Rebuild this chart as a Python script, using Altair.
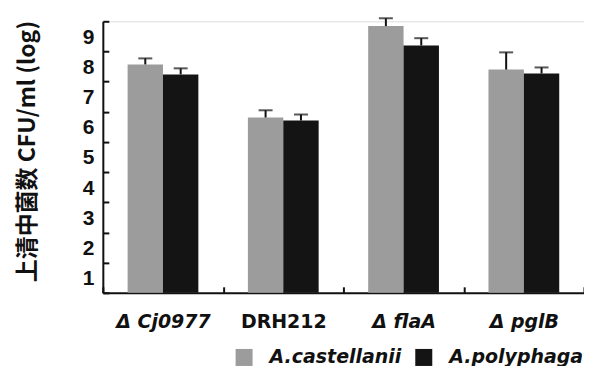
import altair as alt
import pandas as pd

strains = ["Δ Cj0977", "DRH212", "Δ flaA", "Δ pglB"]
hosts = ["A.castellanii", "A.polyphaga"]
castellanii = [7.57, 5.81, 8.84, 7.40]
castellanii_err = [0.20, 0.24, 0.26, 0.57]
polyphaga = [7.24, 5.71, 8.20, 7.27]
polyphaga_err = [0.20, 0.20, 0.24, 0.20]
y_ticks = [0, 1, 2, 3, 4, 5, 6, 7, 8, 9]

rows = []
for i, s in enumerate(strains):
    rows.append({"strain": s, "host": hosts[0], "value": castellanii[i],
                 "top": castellanii[i] + castellanii_err[i]})
    rows.append({"strain": s, "host": hosts[1], "value": polyphaga[i],
                 "top": polyphaga[i] + polyphaga_err[i]})
df = pd.DataFrame(rows)

FONT = "DejaVu Sans"

x = alt.X("strain:N", sort=strains, title=None,
          scale=alt.Scale(paddingInner=0, paddingOuter=0),
          axis=alt.Axis(tickBand="extent", labelAngle=0, labelFont=FONT,
                        labelFontSize=19, labelFontWeight="bold",
                        labelColor="#111", labelPadding=26, labelOverlap=False,
                        labelFontStyle={"expr": "datum.value == 'DRH212' ? 'normal' : 'italic'"},
                        tickSize={"expr": "-6"}, tickColor="#111", tickWidth=2,
                        domainColor="#111", domainWidth=2))
xo = alt.XOffset("host:N", sort=hosts,
                 scale=alt.Scale(paddingInner=0, paddingOuter=0.7))
yscale = alt.Scale(domain=[0, 9], nice=False)
yaxis = alt.Axis(values=y_ticks, labelExpr="datum.value == 0 ? '' : datum.label",
                 labelFont="Liberation Sans", labelFontSize=21, labelFontWeight="bold",
                 labelColor="#111", labelOffset=16, labelPadding=15,
                 labelOverlap=False, labelBound=False,
                 tickSize={"expr": "-6"}, tickColor="#111", tickWidth=2,
                 domainColor="#111", domainWidth=2, grid=False,
                 titleFont="Noto Sans CJK SC", titleFontSize=23,
                 titleFontWeight="bold", titleColor="#111", titlePadding=43,
                 titleY=130)
TITLE = "上清中菌数 CFU/ml (log)"
y = alt.Y("value:Q", title=TITLE, scale=yscale, axis=yaxis)
ytop = alt.Y("top:Q", title=TITLE, scale=yscale, axis=yaxis)
color = alt.Color("host:N", sort=hosts,
                  scale=alt.Scale(domain=hosts, range=["#9c9c9c", "#141414"]),
                  legend=alt.Legend(orient="none", legendX=132, legendY=327,
                                    direction="horizontal", title=None,
                                    symbolType="square", symbolSize=290,
                                    symbolStrokeWidth=0, symbolOpacity=1,
                                    labelFont=FONT, labelFontSize=19,
                                    labelFontWeight="bold", labelFontStyle="italic",
                                    labelColor="#111", columnPadding=12,
                                    labelOffset=16))

bars = alt.Chart(df).mark_bar(opacity=1).encode(x=x, xOffset=xo, y=y, color=color)
err = alt.Chart(df).mark_rule(color="#111", strokeWidth=2).encode(
    x=x, xOffset=xo, y=y, y2="top:Q")
cap = alt.Chart(df).mark_tick(color="#111", thickness=2, size=14, orient="horizontal").encode(
    x=x, xOffset=xo, y=ytop)

chart = alt.layer(bars, err, cap).properties(
    width=482, height=272,
    autosize=alt.AutoSizeParams(type="none"),
    padding={"left": 95, "top": 13, "right": 0, "bottom": 73},
).configure_view(stroke=None).configure(background="white")

chart.save("out.html", embed_options={"renderer": "svg", "actions": False})
